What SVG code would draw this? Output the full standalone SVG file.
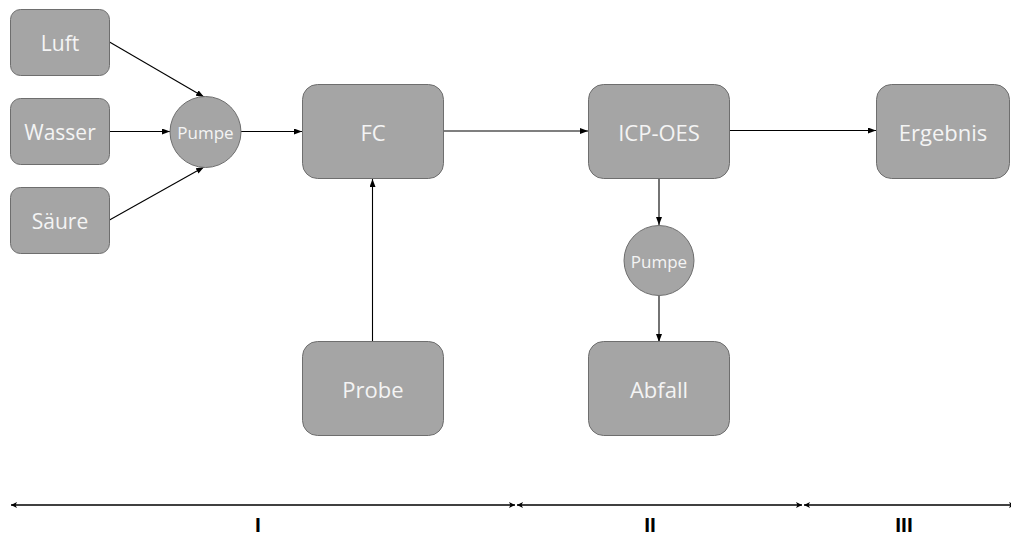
<svg xmlns="http://www.w3.org/2000/svg" width="1011" height="536" viewBox="0 0 1011 536">
  <style>
    .box { fill: #a5a5a5; stroke: #6e6e6e; stroke-width: 1; }
    .lbl { font-family: "Open Sans", "Noto Sans", sans-serif; fill: #f4f4f4; text-anchor: middle; dominant-baseline: central; }
    .sm { font-size: 21px; }
    .lg { font-size: 22px; }
    .pm { font-size: 17px; }
    .flow { stroke: #000; stroke-width: 1.1; fill: none; marker-end: url(#tip); }
    .axis { stroke: #000; stroke-width: 1.6; fill: none; marker-start: url(#tipL); marker-end: url(#tipR); }
    .phase { font-family: "Liberation Sans", Arial, sans-serif; font-weight: bold; font-size: 21px; fill: #000; text-anchor: middle; }
  </style>
  <defs>
    <marker id="tip" viewBox="0 0 8 6" refX="8" refY="3" markerWidth="8" markerHeight="6" markerUnits="userSpaceOnUse" orient="auto">
      <path d="M0,0 L8,3 L0,6 Z" fill="#000"/>
    </marker>
    <marker id="tipR" viewBox="0 0 6 6" refX="6" refY="3" markerWidth="6" markerHeight="6" markerUnits="userSpaceOnUse" orient="auto">
      <path d="M0,0 L6,3 L0,6 L1.5,3 Z" fill="#000"/>
    </marker>
    <marker id="tipL" viewBox="0 0 6 6" refX="0" refY="3" markerWidth="6" markerHeight="6" markerUnits="userSpaceOnUse" orient="auto">
      <path d="M6,0 L0,3 L6,6 L4.5,3 Z" fill="#000"/>
    </marker>
  </defs>

  <!-- connectors -->
  <g id="connectors">
    <line class="flow" x1="109.5" y1="42" x2="204" y2="97"/>
    <line class="flow" x1="109.5" y1="131.5" x2="170" y2="131.5"/>
    <line class="flow" x1="109.5" y1="220" x2="204" y2="167"/>
    <line class="flow" x1="241" y1="131.5" x2="302" y2="131.5"/>
    <line class="flow" x1="443" y1="131" x2="588" y2="131"/>
    <line class="flow" x1="729" y1="130.5" x2="876" y2="130.5"/>
    <line class="flow" x1="372.5" y1="342" x2="372.5" y2="179"/>
    <line class="flow" x1="659" y1="179" x2="659" y2="225"/>
    <line class="flow" x1="659" y1="296" x2="659" y2="342"/>
  </g>

  <g id="luft">
    <rect class="box" x="10.5" y="9.5" width="99" height="66" rx="10"/>
    <text class="lbl sm" x="60" y="42.5">Luft</text>
  </g>
  <g id="wasser">
    <rect class="box" x="10.5" y="98.5" width="99" height="66" rx="10"/>
    <text class="lbl sm" x="60" y="131.5">Wasser</text>
  </g>
  <g id="saeure">
    <rect class="box" x="10.5" y="187.5" width="99" height="66" rx="10"/>
    <text class="lbl sm" x="60" y="220.5">Säure</text>
  </g>
  <g id="pumpe1">
    <circle class="box" cx="205.5" cy="132" r="35.5"/>
    <text class="lbl pm" x="205.5" y="132">Pumpe</text>
  </g>
  <g id="fc">
    <rect class="box" x="302.5" y="84.5" width="141" height="94" rx="15"/>
    <text class="lbl lg" x="373" y="131.5">FC</text>
  </g>
  <g id="probe">
    <rect class="box" x="302.5" y="341.5" width="141" height="94" rx="15"/>
    <text class="lbl lg" x="373" y="388.5">Probe</text>
  </g>
  <g id="icp-oes">
    <rect class="box" x="588.5" y="84.5" width="141" height="94" rx="15"/>
    <text class="lbl lg" x="659" y="131.5">ICP-OES</text>
  </g>
  <g id="pumpe2">
    <circle class="box" cx="659" cy="260.5" r="35"/>
    <text class="lbl pm" x="659" y="261">Pumpe</text>
  </g>
  <g id="abfall">
    <rect class="box" x="588.5" y="341.5" width="141" height="94" rx="15"/>
    <text class="lbl lg" x="659" y="388.5">Abfall</text>
  </g>
  <g id="ergebnis">
    <rect class="box" x="876.5" y="84.5" width="133" height="94" rx="15"/>
    <text class="lbl lg" x="943" y="131.5">Ergebnis</text>
  </g>

  <!-- phase scale -->
  <g id="phases">
    <line class="axis" x1="11" y1="505" x2="515" y2="505"/>
    <line class="axis" x1="517" y1="505" x2="802" y2="505"/>
    <line class="axis" x1="804" y1="505" x2="1015" y2="505"/>
    <text class="phase" x="258" y="532">I</text>
    <text class="phase" x="650" y="532">II</text>
    <text class="phase" x="904" y="532">III</text>
  </g>
</svg>
